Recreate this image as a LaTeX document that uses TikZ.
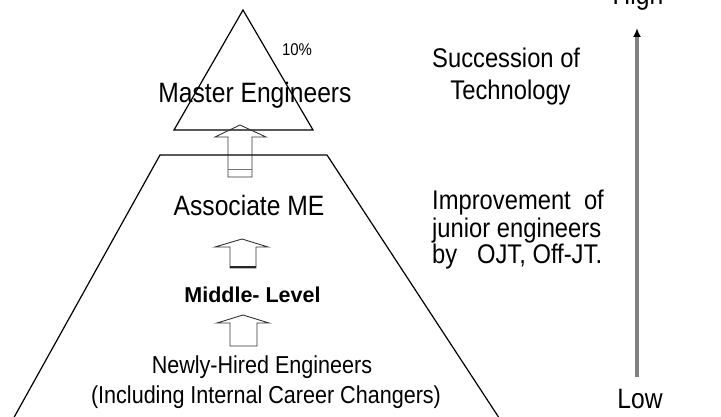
\documentclass[tikz,border=0pt]{standalone}
\usepackage{fontspec}
\setmainfont{Liberation Sans}
\newfontfamily\narrowfont[FakeStretch=0.88]{Liberation Sans}
\usetikzlibrary{arrows.meta}
\newcommand{\blkarrow}[8]{%
  \draw[blockarrow] (#1,#8) -- (#1,#7) -- (#3,#7) -- (#5,#6) -- (#4,#7) -- (#2,#7) -- (#2,#8) -- cycle;}
\begin{document}
\begin{tikzpicture}[x=1pt,y=-1pt,
  outline/.style={draw=black, line width=1.2pt, line join=miter},
  blockarrow/.style={draw=black!80, line width=0.9pt, line join=miter},
  bigtext/.style={font=\narrowfont\fontsize{28}{32}\selectfont, anchor=base, inner sep=0pt},
  midtext/.style={font=\narrowfont\fontsize{24.5}{28}\selectfont, anchor=base, inner sep=0pt},
  sidetext/.style={font=\narrowfont\fontsize{27}{30}\selectfont, anchor=base west, inner sep=0pt},
  boldtext/.style={font=\bfseries\fontsize{21.5}{24}\selectfont, anchor=base, inner sep=0pt},
  smalltext/.style={font=\narrowfont\fontsize{17}{20}\selectfont, anchor=base, inner sep=0pt}
]
\useasboundingbox (0,0) rectangle (721,417);
\clip (0,0) rectangle (721,417);
\fill[white] (0,0) rectangle (721,417);

% pyramid outlines
\draw[outline] (243,10) -- (313,130) -- (174,130) -- cycle;
\draw[outline] (7,430) -- (160,155) -- (327,155) -- (507,430);

% block arrows
\blkarrow{228}{252}{215}{266}{240}{125}{137}{177}
\draw[black!55, line width=1pt] (228,170) -- (252,170);
\blkarrow{230}{256}{215}{268}{242}{239}{247}{268}
\draw[black!85, line width=2pt] (230,267) -- (256,267);
\blkarrow{230}{257}{217}{269}{243}{315}{323}{346}

% labels in pyramid
\node[smalltext] (pct) at (297,56) {10\%};
\node[bigtext] (master) at (255,103) {Master Engineers};
\node[bigtext] (assoc) at (249,215) {Associate ME};
\node[boldtext] (middle) at (252.5,302) {Middle- Level};
\node[midtext] (newly) at (262,373) {Newly-Hired Engineers};
\node[midtext] (incl) at (266,403) {(Including Internal Career Changers)};

% side texts
\node[sidetext] (succ) at (432,68) {Succession of};
\node[sidetext, anchor=base] (tech) at (510.5,100) {Technology};
\node[sidetext] (impr) at (432,210) {Improvement\ \ of};
\node[sidetext] (junior) at (432,237) {junior engineers};
\node[sidetext] (ojt) at (432,263) {by\ \ \ OJT, Off-JT.};

% scale arrow
\node[bigtext] (low) at (640,408) {Low};
\node[bigtext] (high) at (638,5) {High};
\coordinate (lowend) at (637,377);
\coordinate (highend) at (637,28);
\draw[line width=3.5pt, color=black!50, -{Latex[length=9pt,width=8pt,color=black]}] (lowend) -- (highend);
\end{tikzpicture}
\end{document}
